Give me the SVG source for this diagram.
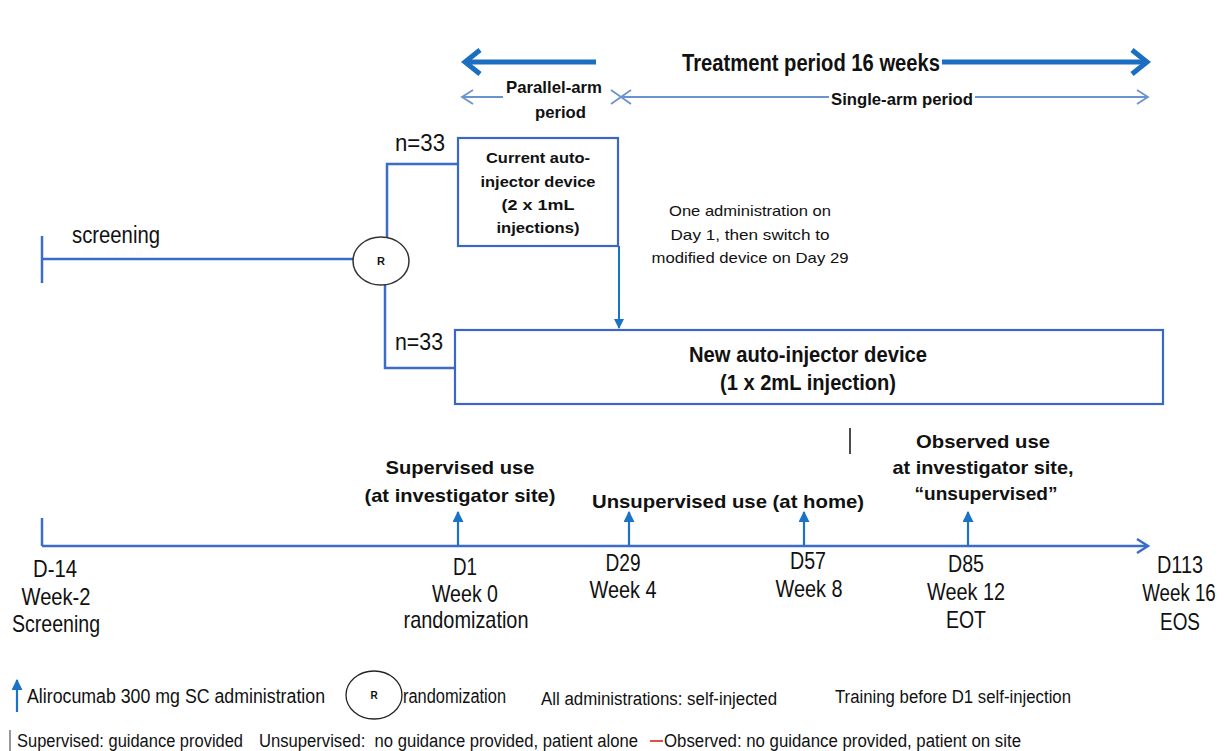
<svg xmlns="http://www.w3.org/2000/svg" width="1225" height="751" viewBox="0 0 1225 751">
<defs>
<style>
.n{font-family:"Liberation Sans",Arial,sans-serif;fill:#111}
.a{font-family:"Liberation Sans",Arial,sans-serif;fill:#111}
.b{font-weight:bold}
.box{fill:#fff;stroke:#3b66c4;stroke-width:2.2}
.ln{fill:none;stroke:#3a6cc8;stroke-width:2.5}
.thin{fill:none;stroke:#6b93cf;stroke-width:1.8}
.thick{fill:none;stroke:#1c6fc0;stroke-width:5}
.up{fill:none;stroke:#1a73c4;stroke-width:2.2}
</style>
<marker id="tri" viewBox="0 0 10 10" refX="9" refY="5" markerWidth="5" markerHeight="5" orient="auto" markerUnits="strokeWidth">
<path d="M0,0 L10,5 L0,10 z" fill="#1a73c4"/>
</marker>
</defs>
<rect width="1225" height="751" fill="#fff"/>

<g id="treatment-period">
<line class="thick" x1="466" y1="62" x2="596" y2="62"/>
<line class="thick" x1="942" y1="62" x2="1146" y2="62"/>
<polyline class="thick" points="480,50 465,62 480,74"/>
<polyline class="thick" points="1132,50 1147,62 1132,74"/>
<text class="n b" x="682" y="71" font-size="23" textLength="258" lengthAdjust="spacingAndGlyphs">Treatment period 16 weeks</text>
</g>

<g id="sub-periods">
<line class="thin" x1="462" y1="97" x2="503" y2="97"/>
<line class="thin" x1="620" y1="97" x2="829" y2="97"/>
<line class="thin" x1="975" y1="97" x2="1148" y2="97"/>
<polyline class="thin" points="473,90 462,97 473,104"/>
<polyline class="thin" points="611,90 621,97 611,104"/>
<polyline class="thin" points="631,90 621,97 631,104"/>
<polyline class="thin" points="1137,90 1148,97 1137,104"/>
<text class="n b" x="506" y="93" font-size="17" textLength="96" lengthAdjust="spacingAndGlyphs">Parallel-arm</text>
<text class="n b" x="535" y="118" font-size="17" textLength="51" lengthAdjust="spacingAndGlyphs">period</text>
<text class="n b" x="831" y="105" font-size="17" textLength="142" lengthAdjust="spacingAndGlyphs">Single-arm period</text>
</g>

<g id="connectors">
<polyline class="ln" points="42,259 355,259"/>
<line class="ln" x1="42" y1="236" x2="42" y2="283"/>
<polyline class="ln" points="387,237 387,164 458,164"/>
<polyline class="ln" points="385,285 385,368 455,368"/>
<line x1="619" y1="246" x2="619" y2="328" stroke="#1a73c4" stroke-width="2" marker-end="url(#tri)"/>
</g>

<g id="screening">
<text class="n" x="72" y="243" font-size="23" textLength="88" lengthAdjust="spacingAndGlyphs">screening</text>
</g>

<g id="randomization-node">
<ellipse cx="381" cy="261" rx="28" ry="24" fill="#fff" stroke="#333" stroke-width="1.5"/>
<text class="a b" x="381" y="265" font-size="11" text-anchor="middle">R</text>
</g>

<g id="n-labels">
<text class="n" x="395" y="151" font-size="23" textLength="50" lengthAdjust="spacingAndGlyphs">n=33</text>
<text class="n" x="395" y="350" font-size="23" textLength="48" lengthAdjust="spacingAndGlyphs">n=33</text>
</g>

<g id="current-device">
<rect class="box" x="458" y="138" width="160" height="108"/>
<text class="a b" x="538" y="163" font-size="15" text-anchor="middle" textLength="104" lengthAdjust="spacingAndGlyphs">Current auto-</text>
<text class="a b" x="538" y="187" font-size="15" text-anchor="middle" textLength="115" lengthAdjust="spacingAndGlyphs">injector device</text>
<text class="a b" x="538" y="210" font-size="15" text-anchor="middle" textLength="73" lengthAdjust="spacingAndGlyphs">(2 x 1mL</text>
<text class="a b" x="538" y="233" font-size="15" text-anchor="middle" textLength="83" lengthAdjust="spacingAndGlyphs">injections)</text>
</g>

<g id="switch-note">
<text class="a" x="750" y="216" font-size="15" text-anchor="middle" textLength="162" lengthAdjust="spacingAndGlyphs">One administration on</text>
<text class="a" x="750" y="240" font-size="15" text-anchor="middle" textLength="159" lengthAdjust="spacingAndGlyphs">Day 1, then switch to</text>
<text class="a" x="750" y="263" font-size="15" text-anchor="middle" textLength="197" lengthAdjust="spacingAndGlyphs">modified device on Day 29</text>
</g>

<g id="new-device">
<rect class="box" x="455" y="330" width="708" height="74"/>
<text class="n b" x="808" y="362" font-size="22" text-anchor="middle" textLength="238" lengthAdjust="spacingAndGlyphs">New auto-injector device</text>
<text class="n b" x="808" y="390" font-size="22" text-anchor="middle" textLength="176" lengthAdjust="spacingAndGlyphs">(1 x 2mL injection)</text>
</g>

<g id="marker-tick">
<line x1="850" y1="428" x2="850" y2="454" stroke="#111" stroke-width="1.5"/>
</g>

<g id="timeline">
<line class="ln" x1="42" y1="546" x2="1147" y2="546"/>
<line class="ln" x1="42" y1="518" x2="42" y2="546"/>
<polyline class="ln" points="1137,539 1148,546 1137,553" stroke-width="2"/>
<line class="up" x1="458" y1="545" x2="458" y2="512" marker-end="url(#tri)"/>
<line class="up" x1="629" y1="545" x2="629" y2="512" marker-end="url(#tri)"/>
<line class="up" x1="804" y1="545" x2="804" y2="512" marker-end="url(#tri)"/>
<line class="up" x1="968" y1="545" x2="968" y2="512" marker-end="url(#tri)"/>
</g>

<g id="use-labels">
<text class="a b" x="460" y="474" font-size="19" text-anchor="middle" textLength="149" lengthAdjust="spacingAndGlyphs">Supervised use</text>
<text class="a b" x="460" y="502" font-size="19" text-anchor="middle" textLength="191" lengthAdjust="spacingAndGlyphs">(at investigator site)</text>
<text class="a b" x="728" y="508" font-size="19" text-anchor="middle" textLength="272" lengthAdjust="spacingAndGlyphs">Unsupervised use (at home)</text>
<text class="a b" x="983" y="448" font-size="19" text-anchor="middle" textLength="134" lengthAdjust="spacingAndGlyphs">Observed use</text>
<text class="a b" x="983" y="474" font-size="19" text-anchor="middle" textLength="181" lengthAdjust="spacingAndGlyphs">at investigator site,</text>
<text class="a b" x="986" y="500" font-size="19" text-anchor="middle" textLength="143" lengthAdjust="spacingAndGlyphs">“unsupervised”</text>
</g>

<g id="visit-labels" font-size="24">
<text class="n" x="55" y="577" text-anchor="middle" textLength="44" lengthAdjust="spacingAndGlyphs">D-14</text>
<text class="n" x="56" y="605" text-anchor="middle" textLength="69" lengthAdjust="spacingAndGlyphs">Week-2</text>
<text class="n" x="56" y="632" text-anchor="middle" textLength="88" lengthAdjust="spacingAndGlyphs">Screening</text>
<text class="n" x="465" y="575" text-anchor="middle" textLength="24" lengthAdjust="spacingAndGlyphs">D1</text>
<text class="n" x="465" y="602" text-anchor="middle" textLength="66" lengthAdjust="spacingAndGlyphs">Week 0</text>
<text class="n" x="466" y="628" text-anchor="middle" textLength="125" lengthAdjust="spacingAndGlyphs">randomization</text>
<text class="n" x="623" y="571" text-anchor="middle" textLength="35" lengthAdjust="spacingAndGlyphs">D29</text>
<text class="n" x="623" y="598" text-anchor="middle" textLength="67" lengthAdjust="spacingAndGlyphs">Week 4</text>
<text class="n" x="808" y="569" text-anchor="middle" textLength="36" lengthAdjust="spacingAndGlyphs">D57</text>
<text class="n" x="809" y="597" text-anchor="middle" textLength="67" lengthAdjust="spacingAndGlyphs">Week 8</text>
<text class="n" x="966" y="572" text-anchor="middle" textLength="36" lengthAdjust="spacingAndGlyphs">D85</text>
<text class="n" x="966" y="600" text-anchor="middle" textLength="78" lengthAdjust="spacingAndGlyphs">Week 12</text>
<text class="n" x="966" y="628" text-anchor="middle" textLength="40" lengthAdjust="spacingAndGlyphs">EOT</text>
<text class="n" x="1180" y="573" text-anchor="middle" textLength="46" lengthAdjust="spacingAndGlyphs">D113</text>
<text class="n" transform="translate(1179,601) scale(0.78,1)" text-anchor="middle">Week 16</text>
<text class="n" x="1180" y="630" text-anchor="middle" textLength="40" lengthAdjust="spacingAndGlyphs">EOS</text>
</g>

<g id="legend">
<line class="up" x1="17" y1="712" x2="17" y2="680" marker-end="url(#tri)"/>
<text class="n" x="27" y="703" font-size="20" textLength="298" lengthAdjust="spacingAndGlyphs">Alirocumab 300 mg SC administration</text>
<ellipse cx="374" cy="695" rx="28" ry="24" fill="#fff" stroke="#222" stroke-width="1.3"/>
<text class="a b" x="374" y="699" font-size="10" text-anchor="middle">R</text>
<text class="n" x="403" y="703" font-size="20" textLength="103" lengthAdjust="spacingAndGlyphs">randomization</text>
<text class="n" x="541" y="705" font-size="18" textLength="236" lengthAdjust="spacingAndGlyphs">All administrations: self-injected</text>
<text class="n" x="835" y="703" font-size="18" textLength="236" lengthAdjust="spacingAndGlyphs">Training before D1 self-injection</text>
<line x1="10" y1="730" x2="10" y2="751" stroke="#333" stroke-width="1"/>
<text class="n" x="17" y="747" font-size="18" textLength="226" lengthAdjust="spacingAndGlyphs">Supervised: guidance provided</text>
<text class="n" x="259" y="747" font-size="18" textLength="379" lengthAdjust="spacingAndGlyphs" xml:space="preserve">Unsupervised:  no guidance provided, patient alone</text>
<line x1="650" y1="741" x2="663" y2="741" stroke="#e0504a" stroke-width="2"/>
<text class="n" x="664" y="747" font-size="18" textLength="357" lengthAdjust="spacingAndGlyphs">Observed: no guidance provided, patient on site</text>
</g>
</svg>
